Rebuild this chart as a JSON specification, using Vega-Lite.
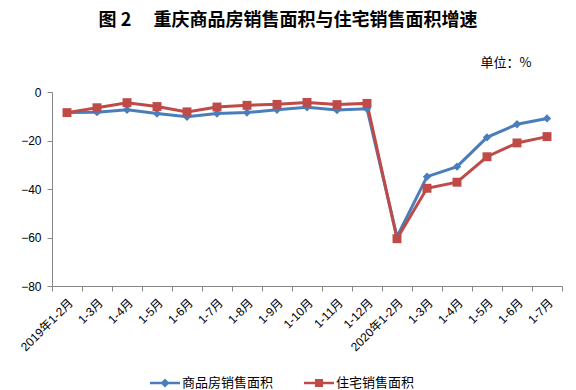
{
  "$schema": "https://vega.github.io/schema/vega-lite/v6.json",
  "width": 510,
  "height": 194,
  "autosize": {"type": "none"},
  "padding": {"left": 52, "top": 92, "right": 14, "bottom": 104},
  "background": "white",
  "title": {
    "text": "图 2　 重庆商品房销售面积与住宅销售面积增速",
    "anchor": "middle",
    "frame": "group",
    "dx": -19,
    "offset": 12,
    "baseline": "alphabetic",
    "font": "Noto Sans CJK SC",
    "fontSize": 18,
    "fontWeight": "bold",
    "color": "#000000"
  },
  "config": {
    "view": {"stroke": null},
    "font": "Liberation Sans"
  },
  "data": {
    "values": [
      {"month": "2019年1-2月", "series": "商品房销售面积", "value": -8.5},
      {"month": "2019年1-3月", "series": "商品房销售面积", "value": -8.3},
      {"month": "2019年1-4月", "series": "商品房销售面积", "value": -7.3},
      {"month": "2019年1-5月", "series": "商品房销售面积", "value": -8.9},
      {"month": "2019年1-6月", "series": "商品房销售面积", "value": -10.2},
      {"month": "2019年1-7月", "series": "商品房销售面积", "value": -8.9},
      {"month": "2019年1-8月", "series": "商品房销售面积", "value": -8.5},
      {"month": "2019年1-9月", "series": "商品房销售面积", "value": -7.3},
      {"month": "2019年1-10月", "series": "商品房销售面积", "value": -6.3},
      {"month": "2019年1-11月", "series": "商品房销售面积", "value": -7.4},
      {"month": "2019年1-12月", "series": "商品房销售面积", "value": -6.9},
      {"month": "2020年1-2月", "series": "商品房销售面积", "value": -59.7},
      {"month": "2020年1-3月", "series": "商品房销售面积", "value": -34.9},
      {"month": "2020年1-4月", "series": "商品房销售面积", "value": -30.8},
      {"month": "2020年1-5月", "series": "商品房销售面积", "value": -18.7},
      {"month": "2020年1-6月", "series": "商品房销售面积", "value": -13.3},
      {"month": "2020年1-7月", "series": "商品房销售面积", "value": -10.9},
      {"month": "2019年1-2月", "series": "住宅销售面积", "value": -8.5},
      {"month": "2019年1-3月", "series": "住宅销售面积", "value": -6.5},
      {"month": "2019年1-4月", "series": "住宅销售面积", "value": -4.4},
      {"month": "2019年1-5月", "series": "住宅销售面积", "value": -6.0},
      {"month": "2019年1-6月", "series": "住宅销售面积", "value": -8.2},
      {"month": "2019年1-7月", "series": "住宅销售面积", "value": -6.2},
      {"month": "2019年1-8月", "series": "住宅销售面积", "value": -5.5},
      {"month": "2019年1-9月", "series": "住宅销售面积", "value": -5.1},
      {"month": "2019年1-10月", "series": "住宅销售面积", "value": -4.3},
      {"month": "2019年1-11月", "series": "住宅销售面积", "value": -5.2},
      {"month": "2019年1-12月", "series": "住宅销售面积", "value": -4.7},
      {"month": "2020年1-2月", "series": "住宅销售面积", "value": -60.5},
      {"month": "2020年1-3月", "series": "住宅销售面积", "value": -39.7},
      {"month": "2020年1-4月", "series": "住宅销售面积", "value": -37.2},
      {"month": "2020年1-5月", "series": "住宅销售面积", "value": -26.7},
      {"month": "2020年1-6月", "series": "住宅销售面积", "value": -21.0},
      {"month": "2020年1-7月", "series": "住宅销售面积", "value": -18.4}
    ]
  },
  "encoding": {
    "x": {
      "field": "month",
      "type": "ordinal",
      "sort": null,
      "bandPosition": 0.5,
      "scale": {"type": "band", "paddingInner": 0, "paddingOuter": 0},
      "axis": {
        "title": null,
        "labelAngle": -45,
        "labelAlign": "right",
        "labelBaseline": "top",
        "labelExpr": "indexof(datum.label,'1-2月')>=0 ? datum.label : slice(datum.label,5)",
        "labelFont": "Liberation Sans, Noto Sans CJK SC",
        "labelFontSize": 12,
        "labelColor": "#000000",
        "labelPadding": 6,
        "labelOverlap": false,
        "tickBand": "extent",
        "tickSize": 5,
        "tickColor": "#868686",
        "domainColor": "#868686",
        "grid": false
      }
    },
    "y": {
      "field": "value",
      "type": "quantitative",
      "scale": {"domain": [-80, 0], "nice": false},
      "axis": {
        "title": "单位：%",
        "titleAngle": 0,
        "titleX": 428,
        "titleY": -30,
        "titleAlign": "left",
        "titleBaseline": "middle",
        "titleFont": "Noto Sans CJK SC",
        "titleFontSize": 13,
        "titleFontWeight": "normal",
        "titleColor": "#000000",
        "values": [0, -20, -40, -60, -80],
        "labelFont": "Liberation Sans",
        "labelFontSize": 12,
        "labelColor": "#000000",
        "labelPadding": 6,
        "tickSize": 5,
        "tickColor": "#868686",
        "domainColor": "#868686",
        "grid": false
      }
    },
    "color": {
      "field": "series",
      "type": "nominal",
      "sort": ["商品房销售面积", "住宅销售面积"],
      "scale": {"domain": ["商品房销售面积", "住宅销售面积"], "range": ["#4A7EBB", "#BE4B48"]},
      "legend": {
        "title": null,
        "orient": "none",
        "direction": "horizontal",
        "legendX": 98,
        "legendY": 276,
        "symbolSize": 900,
        "symbolStrokeWidth": 0,
        "columnPadding": 30,
        "labelFont": "Noto Sans CJK SC",
        "labelFontSize": 13,
        "labelColor": "#000000",
        "labelOffset": 2,
        "encode": {
          "symbols": {
            "update": {
              "shape": {"signal": "datum.value === '商品房销售面积' ? 'M-1,-0.09H1V0.09H-1Z M0,-0.3L0.3,0L0,0.3L-0.3,0Z' : 'M-1,-0.09H1V0.09H-1Z M-0.27,-0.27H0.27V0.27H-0.27Z'"},
              "strokeWidth": {"value": 0}
            }
          }
        }
      }
    }
  },
  "layer": [
    {
      "mark": {"type": "line", "strokeWidth": 3}
    },
    {
      "transform": [{"filter": "datum.series === '商品房销售面积'"}],
      "mark": {"type": "point", "shape": "diamond", "filled": true, "size": 70, "opacity": 1}
    },
    {
      "transform": [{"filter": "datum.series === '住宅销售面积'"}],
      "mark": {"type": "point", "shape": "square", "filled": true, "size": 80, "opacity": 1}
    }
  ]
}
